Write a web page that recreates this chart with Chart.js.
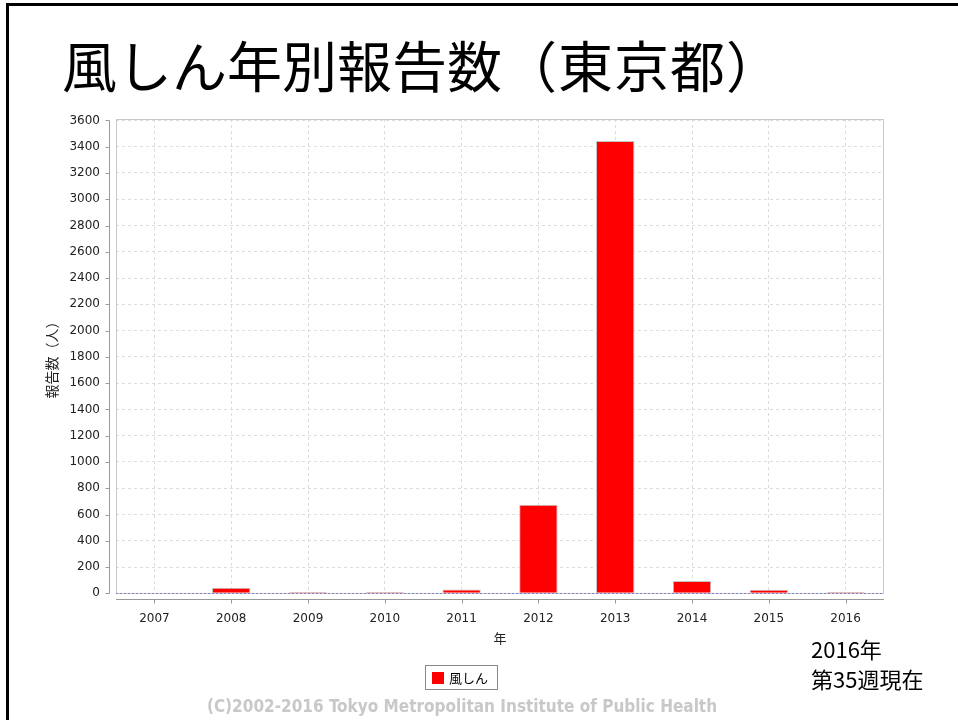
<!DOCTYPE html>
<html lang="ja">
<head>
<meta charset="utf-8">
<title>風しん年別報告数（東京都）</title>
<script src="https://cdn.jsdelivr.net/npm/chart.js@4.4.1/dist/chart.umd.min.js"></script>
<style>
  html, body { margin: 0; padding: 0; background: #fff; }
  #page { position: relative; width: 958px; height: 720px; overflow: hidden; background: #fff; }
  #chartBox { position: absolute; left: 0; top: 0; width: 958px; height: 720px; }
  .frameTop { position: absolute; left: 6px; top: 3px; width: 952px; height: 3px; background: #000; }
  .frameLeft { position: absolute; left: 6px; top: 3px; width: 3px; height: 717px; background: #000; }
  #title { position: absolute; left: 62px; top: 28px; font-family: "Noto Sans CJK JP", sans-serif; font-size: 55px; line-height: 70px; color: #000; white-space: nowrap; }
  #title .par { letter-spacing: 1px; }
  #note { position: absolute; left: 811px; top: 633px; font-family: "Noto Sans CJK JP", sans-serif; font-size: 22px; line-height: 30px; color: #000; }
  #legend { position: absolute; left: 425px; top: 665px; width: 71px; height: 23px; border: 1px solid #888; font-family: "Noto Sans CJK JP", sans-serif; font-size: 13px; line-height: 23px; color: #000; }
  #legend span.sw { position: absolute; left: 6px; top: 6px; width: 12px; height: 12px; background: #ff0000; }
  #legend span.lb { position: absolute; left: 23px; top: 0; }
  #copy { position: absolute; left: 0; width: 924px; top: 696px; text-align: center; font-family: "DejaVu Sans Condensed", "DejaVu Sans", sans-serif; font-weight: bold; font-size: 17px; line-height: 20px; color: #c8c8c8; white-space: nowrap; }
</style>
</head>
<body>
<div id="page">
  <div id="chartBox"><canvas id="graficoFushin"></canvas></div>
  <div class="frameTop"></div>
  <div class="frameLeft"></div>
  <div id="title">風しん年別報告数<span class="par">（東京都）</span></div>
  <div id="note">2016年<br>第35週現在</div>
  <div id="legend"><span class="sw"></span><span class="lb">風しん</span></div>
  <div id="copy">(C)2002-2016 Tokyo Metropolitan Institute of Public Health</div>
</div>
<script>
// datos
const anios = ['2007', '2008', '2009', '2010', '2011', '2012', '2013', '2014', '2015', '2016'];
const reportes = [0, 43, 10, 10, 30, 675, 3444, 94, 28, 10];
const ticksY = [0, 200, 400, 600, 800, 1000, 1200, 1400, 1600, 1800, 2000, 2200, 2400, 2600, 2800, 3000, 3200, 3400, 3600];
const serieNombre = '風しん';
const ejeY = '報告数（人）';
const ejeX = '年';

const fuenteTicks = { family: 'DejaVu Sans', size: 12 };

// ejes estilo JFreeChart: linea separada del area, marco gris y linea del cero punteada
const ejesPlugin = {
    id: 'ejesJFree',
    beforeDatasetsDraw(chart) {
        const { ctx, chartArea: a } = chart;
        ctx.save();
        ctx.strokeStyle = '#c8c8c8';
        ctx.lineWidth = 1;
        ctx.strokeRect(a.left + 0.5, a.top + 0.5, a.right - a.left - 1, a.bottom - a.top - 1);
        ctx.restore();
    },
    afterDatasetsDraw(chart) {
        const { ctx, chartArea: a, scales } = chart;
        const y0 = Math.round(scales.y.getPixelForValue(0)) + 0.5;
        ctx.save();
        ctx.strokeStyle = 'rgba(110,110,200,0.8)';
        ctx.lineWidth = 1;
        ctx.setLineDash([2, 2]);
        ctx.beginPath();
        ctx.moveTo(a.left, y0);
        ctx.lineTo(a.right, y0);
        ctx.stroke();
        ctx.setLineDash([]);

        ctx.strokeStyle = '#999999';
        // eje Y
        const xa = a.left - 6.5;
        ctx.beginPath();
        ctx.moveTo(xa, scales.y.getPixelForValue(ticksY[ticksY.length - 1]));
        ctx.lineTo(xa, y0);
        ticksY.forEach(v => {
            const yy = Math.round(scales.y.getPixelForValue(v)) + 0.5;
            ctx.moveTo(xa - 4, yy);
            ctx.lineTo(xa, yy);
        });
        ctx.stroke();
        // eje X
        const ya = a.bottom + 5.5;
        ctx.beginPath();
        ctx.moveTo(a.left, ya);
        ctx.lineTo(a.right, ya);
        anios.forEach((_, i) => {
            const xx = Math.round(scales.x.getPixelForValue(i)) + 0.5;
            ctx.moveTo(xx, ya);
            ctx.lineTo(xx, ya + 4);
        });
        ctx.stroke();
        ctx.restore();
    }
};

document.addEventListener('DOMContentLoaded', function() {
    const ctx = document.getElementById('graficoFushin');
    new Chart(ctx.getContext('2d'), {
        type: 'bar',
        data: {
            labels: anios,
            datasets: [{
                label: serieNombre,
                data: reportes,
                backgroundColor: '#ff0000',
                borderColor: '#c4c4c4',
                borderWidth: 1,
                borderSkipped: 'start',
                barPercentage: 0.5,
                categoryPercentage: 1.0
            }]
        },
        options: {
            responsive: true,
            maintainAspectRatio: false,
            animation: false,
            layout: { padding: { left: 40, top: 119, right: 74, bottom: 74 } },
            plugins: {
                legend: { display: false },
                tooltip: { enabled: false }
            },
            scales: {
                x: {
                    afterFit: s => { s.height = 52; },
                    grid: {
                        offset: false,
                        color: '#dcdcdc',
                        drawTicks: false
                    },
                    border: { display: false, dash: [3, 3] },
                    ticks: { color: '#222', font: fuenteTicks, padding: 18, maxRotation: 0 },
                    title: {
                        display: true,
                        text: ejeX,
                        color: '#222',
                        font: { family: 'Noto Sans CJK JP', size: 13 },
                        padding: { top: 0, bottom: 0 }
                    }
                },
                y: {
                    min: -5,
                    max: 3611,
                    afterFit: s => { s.width = 76; },
                    afterBuildTicks: s => {
                        s.ticks = ticksY.map(v => ({ value: v }));
                    },
                    grid: { color: '#dcdcdc', drawTicks: false },
                    border: { display: false, dash: [3, 3] },
                    ticks: {
                        color: '#222',
                        font: fuenteTicks,
                        padding: 16,
                        callback: value => String(value)
                    },
                    title: {
                        display: true,
                        text: ejeY,
                        color: '#222',
                        font: { family: 'Noto Sans CJK JP', size: 14 },
                        padding: { top: 3, bottom: 0 }
                    }
                }
            }
        },
        plugins: [ejesPlugin]
    });
});
</script>
</body>
</html>
